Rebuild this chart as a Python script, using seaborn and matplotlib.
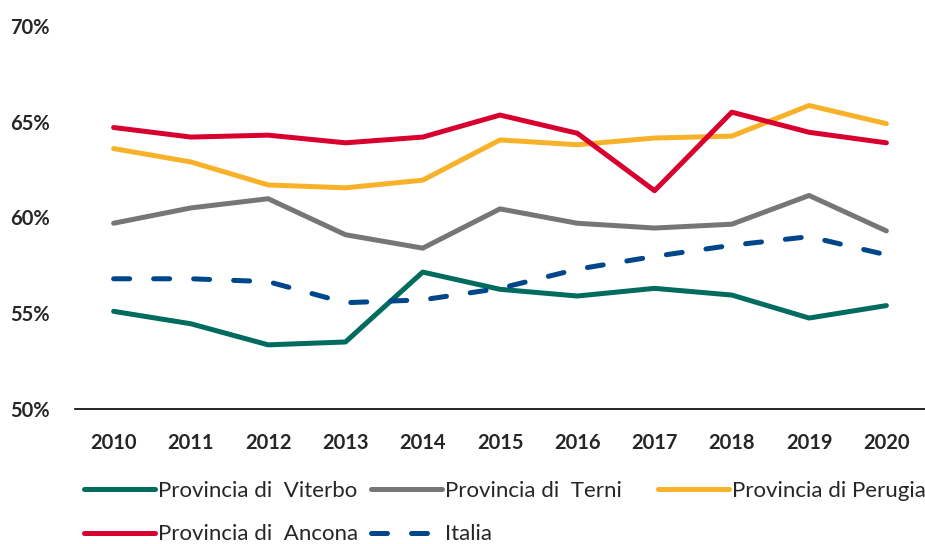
import numpy as np
import pandas as pd
import matplotlib
matplotlib.use("Agg")
import matplotlib.pyplot as plt
from matplotlib.lines import Line2D
import seaborn as sns

years = list(range(2010, 2021))
viterbo = [55.1, 54.45, 53.35, 53.5, 57.15, 56.25, 55.9, 56.3, 55.95, 54.75, 55.4]
terni = [59.7, 60.5, 60.98, 59.1, 58.4, 60.45, 59.7, 59.45, 59.65, 61.15, 59.3]
perugia = [63.6, 62.9, 61.7, 61.55, 61.95, 64.05, 63.8, 64.15, 64.25, 65.85, 64.9]
ancona = [64.7, 64.2, 64.3, 63.9, 64.2, 65.35, 64.4, 61.4, 65.5, 64.45, 63.9]
italia = [56.8, 56.8, 56.65, 55.55, 55.7, 56.3, 57.3, 57.97, 58.55, 59.0, 58.05]

names = ["Provincia di  Viterbo", "Provincia di  Terni", "Provincia di Perugia",
         "Provincia di  Ancona", "Italia"]
colors = ["#006B5E", "#767676", "#F8B229", "#D7002F", "#00468B"]

df = pd.DataFrame({"anno": years * 5,
                   "valore": viterbo + terni + perugia + ancona + italia,
                   "serie": [n for n in names for _ in years]})

sns.set_style("white")
plt.rcParams["font.family"] = ["Lato", "DejaVu Sans"]

fig = plt.figure(figsize=(9.25, 5.44), dpi=100)
ax = fig.add_axes([75 / 925, 1 - 409 / 544, 1 - 75 / 925, (409 - 26) / 544])

lw = 3.6
for n, c in zip(names, colors):
    sub = df[df["serie"] == n]
    sns.lineplot(data=sub, x="anno", y="valore", color=c, lw=lw, ax=ax,
                 solid_capstyle="round", legend=False)
ax.lines[-1].set_dashes([3.2, 4.8])
ax.lines[-1].set_dash_capstyle("round")

ax.set_xlim(2009.5, 2020.5)
ax.set_ylim(50, 70)
ax.set_xticks(years)
ax.set_xticklabels([str(y) for y in years], fontsize=14.5, fontweight="bold")
ax.set_yticks([50, 55, 60, 65, 70])
ax.set_yticklabels(["50%", "55%", "60%", "65%", "70%"], fontsize=14.5,
                   fontweight="bold", ha="left")
ax.tick_params(axis="y", length=0, pad=47)
ax.tick_params(axis="x", length=0, pad=17)
ax.set_xlabel("")
ax.set_ylabel("")
for s in ["top", "right", "left"]:
    ax.spines[s].set_visible(False)
ax.spines["bottom"].set_color("black")
ax.spines["bottom"].set_linewidth(1.2)

handles = []
for n, c in zip(names, colors):
    h = Line2D([0], [0], color=c, lw=lw, solid_capstyle="round")
    if n == "Italia":
        h.set_dashes([3.2, 4.8])
        h.set_dash_capstyle("round")
    handles.append(h)

# one legend per column, so the columns sit where they are in the original
columns = [([0, 3], 84), ([1, 4], 371), ([2], 658)]
for idx, x0 in columns:
    leg = fig.legend([handles[i] for i in idx], [names[i] for i in idx],
                     loc="upper left", bbox_to_anchor=(x0 / 925, 1 - 481 / 544),
                     frameon=False, fontsize=16, handlelength=3.2,
                     handletextpad=0.15, labelspacing=1.05,
                     borderaxespad=0, borderpad=0)

fig.savefig("out.png", dpi=100)
